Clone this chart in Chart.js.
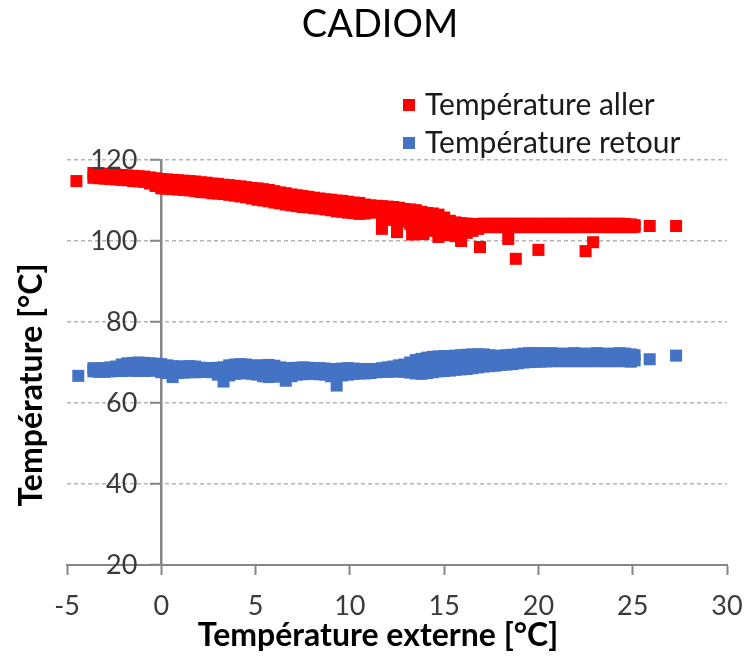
<!DOCTYPE html>
<html>
<head>
<meta charset="utf-8">
<script src="https://cdn.jsdelivr.net/npm/chart.js@4/dist/chart.umd.min.js"></script>
<style>
html, body { margin: 0; padding: 0; background: #fff; }
</style>
</head>
<body>
<canvas id="graphique" width="746" height="658"></canvas>
<script>
const titre = 'CADIOM';
const nomAller = 'Température aller';
const nomRetour = 'Température retour';
const titreX = 'Température externe [°C]';
const titreY = 'Température [°C]';

// bornes des axes
const bornesX = [-5, 30];
const bornesY = [20, 120];

// abscisses relevées le long des deux nuages de points
const xBande = [
  -3.6, -3.3, -3.0, -2.7, -2.4, -2.1, -1.8, -1.5, -1.2, -0.9,
  -0.6, -0.3, 0.0, 0.3, 0.6, 0.9, 1.2, 1.5, 1.8, 2.1,
  2.4, 2.7, 3.0, 3.3, 3.6, 3.9, 4.2, 4.5, 4.8, 5.1,
  5.4, 5.7, 6.0, 6.3, 6.6, 6.9, 7.2, 7.5, 7.8, 8.1,
  8.4, 8.7, 9.0, 9.3, 9.6, 9.9, 10.2, 10.5, 10.8, 11.1,
  11.4, 11.7, 12.0, 12.3, 12.6, 12.9, 13.2, 13.5, 13.8, 14.1,
  14.4, 14.7, 15.0, 15.3, 15.6, 15.9, 16.2, 16.5, 16.8, 17.1,
  17.4, 17.7, 18.0, 18.3, 18.6, 18.9, 19.2, 19.5, 19.8, 20.1,
  20.4, 20.7, 21.0, 21.3, 21.6, 21.9, 22.2, 22.5, 22.8, 23.1,
  23.4, 23.7, 24.0, 24.3, 24.6, 24.9, 25.1
];

// Température aller : haut et bas du nuage
const yAllerHaut = [
  116.8, 116.7, 116.6, 116.5, 116.4, 116.3, 116.2, 116.1, 116.0, 115.9,
  115.7, 115.5, 115.3, 115.2, 115.1, 115.0, 114.9, 114.8, 114.7, 114.5,
  114.4, 114.2, 114.1, 113.9, 113.8, 113.6, 113.5, 113.3, 113.1, 113.0,
  112.8, 112.6, 112.3, 112.0, 111.8, 111.5, 111.3, 111.1, 110.9, 110.7,
  110.5, 110.3, 110.2, 110.0, 109.9, 109.7, 109.5, 109.4, 109.0, 108.8,
  108.7, 108.6, 108.5, 108.4, 108.2, 107.9, 107.8, 107.6, 107.2, 106.9,
  106.8, 106.5, 105.8, 105.0, 104.6, 104.4, 104.3, 104.2, 104.2, 104.3,
  104.2, 104.3, 104.2, 104.3, 104.2, 104.3, 104.2, 104.3, 104.2, 104.3,
  104.2, 104.3, 104.2, 104.3, 104.2, 104.3, 104.2, 104.3, 104.2, 104.3,
  104.2, 104.3, 104.2, 104.3, 104.2, 104.1, 103.9
];
const yAllerBas = [
  115.6, 115.5, 115.4, 115.3, 115.2, 115.1, 115.0, 114.8, 114.7, 114.6,
  114.2, 113.6, 113.0, 112.9, 112.8, 112.7, 112.6, 112.5, 112.3, 112.1,
  112.0, 111.8, 111.7, 111.6, 111.4, 111.2, 111.0, 110.8, 110.5, 110.2,
  110.0, 109.8, 109.5, 109.3, 109.0, 108.8, 108.6, 108.4, 108.3, 108.1,
  108.0, 107.8, 107.6, 107.3, 107.2, 107.0, 106.9, 106.7, 106.8, 107.0,
  107.3, 105.5, 106.0, 105.2, 104.8, 105.0, 104.2, 103.8, 103.5, 102.8,
  102.5, 102.0, 101.8, 101.5, 101.2, 101.0, 102.0, 102.5, 103.0, 103.4,
  103.5, 103.4, 103.5, 103.4, 103.5, 103.4, 103.5, 103.4, 103.5, 103.4,
  103.5, 103.4, 103.5, 103.4, 103.5, 103.4, 103.5, 103.4, 103.5, 103.4,
  103.5, 103.4, 103.5, 103.4, 103.5, 103.4, 103.5
];
// Température aller : milieu de la zone large et points isolés
const xAllerAutres = [
  -4.5, 9.0, 10.0, 12.3, 12.6, 12.9, 13.2, 13.5, 13.8, 14.1,
  14.4, 14.7, 15.0, 15.3, 15.6, 15.9, 11.7, 12.5, 13.3, 13.9,
  14.7, 15.9, 16.9, 18.4, 18.8, 20.0, 22.5, 22.9, 25.9, 27.3
];
const yAllerAutres = [
  114.8, 108.9, 108.3, 106.8, 106.5, 106.4, 106.0, 105.7, 105.3, 104.8,
  104.6, 104.2, 103.8, 103.3, 102.9, 102.7, 103.0, 102.2, 101.6, 101.7,
  101.0, 100.0, 98.5, 100.5, 95.6, 97.8, 97.5, 99.7, 103.7, 103.7
];

// Température retour : haut et bas du nuage
const yRetourHaut = [
  68.6, 68.5, 68.6, 68.8, 69.0, 69.5, 69.8, 69.9, 70.0, 69.9,
  69.8, 69.7, 69.6, 69.3, 69.1, 69.0, 69.0, 69.1, 69.0, 68.7,
  68.6, 68.6, 68.7, 68.8, 69.3, 69.5, 69.6, 69.5, 69.3, 69.2,
  69.3, 69.4, 69.2, 68.8, 68.6, 68.6, 68.7, 68.8, 68.7, 68.6,
  68.6, 68.5, 68.4, 68.4, 68.5, 68.6, 68.5, 68.4, 68.4, 68.3,
  68.4, 68.6, 68.8, 69.0, 69.3, 69.5, 70.0, 70.6, 70.9, 71.2,
  71.4, 71.5, 71.6, 71.6, 71.7, 71.8, 71.9, 72.0, 72.0, 72.0,
  71.8, 71.6, 71.7, 71.8, 71.9, 72.0, 72.2, 72.3, 72.3, 72.3,
  72.2, 72.3, 72.2, 72.1, 72.2, 72.3, 72.2, 72.1, 72.2, 72.3,
  72.2, 72.1, 72.2, 72.3, 72.2, 72.0, 71.8
];
const yRetourBas = [
  67.8, 67.7, 67.7, 67.8, 67.9, 67.9, 68.0, 68.0, 67.9, 67.9,
  68.0, 68.0, 67.6, 67.4, 66.4, 67.4, 67.5, 67.6, 67.6, 67.7,
  67.7, 67.6, 67.0, 65.3, 66.8, 67.2, 67.3, 67.4, 67.2, 67.0,
  66.6, 66.4, 66.9, 66.5, 65.5, 66.6, 67.0, 67.1, 67.2, 67.2,
  67.1, 67.0, 66.6, 64.3, 66.8, 67.0, 67.2, 67.3, 67.3, 67.4,
  67.6, 67.7, 67.7, 67.8, 67.8, 67.7, 67.5, 67.3, 67.2, 67.4,
  67.6, 67.8, 67.9, 68.0, 68.2, 68.3, 68.4, 68.6, 68.8, 69.0,
  69.1, 69.2, 69.4, 69.5, 69.6, 69.8, 70.0, 70.1, 70.2, 70.2,
  70.3, 70.3, 70.4, 70.3, 70.4, 70.3, 70.4, 70.3, 70.4, 70.3,
  70.4, 70.3, 70.4, 70.3, 70.4, 70.2, 70.5
];
// Température retour : milieu de la zone large et points isolés
const xRetourAutres = [
  -4.4, 13.8, 14.1, 14.4, 14.7, 15.0, 15.3, 15.6, 15.9, 16.2,
  16.5, 16.8, 25.9, 27.3
];
const yRetourAutres = [
  66.7, 69.0, 69.3, 69.5, 69.6, 69.7, 69.8, 70.0, 70.0, 70.1,
  70.3, 70.4, 70.8, 71.7
];

const points = (xs, ys) => xs.map((x, i) => ({ x, y: ys[i] }));

// Titres, étiquettes de l'axe Y collées à l'axe x=0 et légende
const habillage = {
  id: 'habillage',
  afterDraw(chart) {
    const ctx = chart.ctx;
    const sx = chart.scales.x;
    const sy = chart.scales.y;
    const x0 = sx.getPixelForValue(0);
    ctx.save();
    ctx.textBaseline = 'middle';

    ctx.font = '38px Lato';
    ctx.fillStyle = '#000';
    ctx.textAlign = 'center';
    ctx.fillText(titre, 380, 25);

    ctx.font = 'bold 32px Lato';
    ctx.fillText(titreX, 378, 636);

    ctx.font = '27px Lato';
    ctx.fillStyle = '#3a3a3a';
    ctx.textAlign = 'right';
    sy.ticks.forEach(t => {
      ctx.fillText(String(t.value), x0 - 24, sy.getPixelForValue(t.value));
    });

    ctx.save();
    ctx.translate(32, 385);
    ctx.rotate(-Math.PI / 2);
    ctx.font = 'bold 32px Lato';
    ctx.fillStyle = '#000';
    ctx.textAlign = 'center';
    ctx.fillText(titreY, 0, 0);
    ctx.restore();

    chart.data.datasets.forEach((ds, i) => {
      const y = 105 + i * 38;
      ctx.fillStyle = ds.backgroundColor;
      ctx.fillRect(403, y - 6, 12, 12);
      ctx.fillStyle = '#1a1a1a';
      ctx.textAlign = 'left';
      ctx.font = '30px Lato';
      ctx.fillText(ds.label, 425, y);
    });
    ctx.restore();
  }
};

new Chart(document.getElementById('graphique'), {
  type: 'scatter',
  data: {
    datasets: [
      {
        label: nomAller,
        data: [
          ...points(xBande, yAllerHaut),
          ...points(xBande, yAllerBas),
          ...points(xAllerAutres, yAllerAutres)
        ],
        backgroundColor: '#ff0000',
        borderWidth: 0,
        pointStyle: 'rect',
        pointRadius: 8.5
      },
      {
        label: nomRetour,
        data: [
          ...points(xBande, yRetourHaut),
          ...points(xBande, yRetourBas),
          ...points(xRetourAutres, yRetourAutres)
        ],
        backgroundColor: '#4472c4',
        borderWidth: 0,
        pointStyle: 'rect',
        pointRadius: 8.5
      }
    ]
  },
  options: {
    responsive: false,
    animation: false,
    events: [],
    layout: { padding: { left: 67, right: 19, top: 160, bottom: 0 } },
    plugins: {
      legend: { display: false },
      tooltip: { enabled: false },
      title: { display: false }
    },
    scales: {
      x: {
        type: 'linear',
        min: bornesX[0],
        max: bornesX[1],
        ticks: {
          stepSize: 5,
          color: '#3a3a3a',
          padding: 15,
          font: { family: 'Lato', size: 27 }
        },
        grid: {
          drawOnChartArea: false,
          tickLength: 10,
          tickWidth: 2,
          tickColor: '#868686'
        },
        border: { color: '#868686', width: 2 },
        afterFit(scale) {
          scale.height = 93;
          scale.paddingLeft = 0;
          scale.paddingRight = 0;
        }
      },
      y: {
        type: 'linear',
        position: { x: 0 },
        min: bornesY[0],
        max: bornesY[1],
        ticks: { stepSize: 20, display: false },
        grid: {
          color: c => (c.tick && c.tick.value === bornesY[0]) ? 'rgba(0,0,0,0)' : '#b4b4b4',
          lineWidth: 1.5,
          tickLength: 10,
          tickWidth: 2,
          tickColor: '#868686'
        },
        border: { color: '#868686', width: 2.5, dash: [4, 3] }
      }
    }
  },
  plugins: [habillage]
});
</script>
</body>
</html>
